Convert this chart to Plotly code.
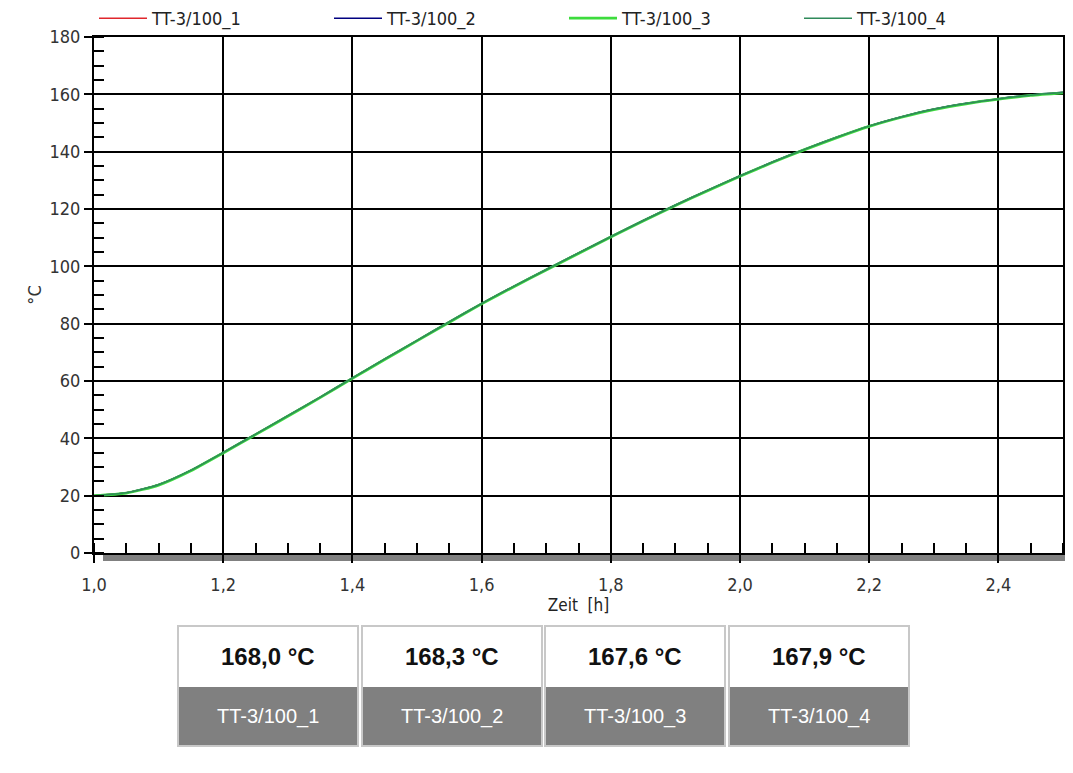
import plotly.graph_objects as go

# ---- data ----
zeit_h = [1.0, 1.05, 1.1, 1.15, 1.2, 1.25, 1.3, 1.35, 1.4, 1.45, 1.5, 1.55, 1.6, 1.65, 1.7,
          1.75, 1.8, 1.85, 1.9, 1.95, 2.0, 2.05, 2.1, 2.15, 2.2, 2.25, 2.3, 2.35, 2.4, 2.45, 2.5]
tt_1 = [20.0, 21.0, 23.8, 28.8, 35.0, 41.4, 47.8, 54.3, 61.0, 67.6, 74.1, 80.6, 87.0, 93.0, 98.8,
        104.6, 110.3, 115.9, 121.3, 126.5, 131.5, 136.3, 140.8, 145.0, 148.9, 152.1, 154.8, 156.8, 158.4, 159.7, 160.6]
tt_2 = [20.0, 21.0, 23.9, 28.9, 35.1, 41.5, 47.9, 54.4, 61.1, 67.7, 74.2, 80.7, 87.1, 93.1, 98.9,
        104.7, 110.4, 116.0, 121.4, 126.6, 131.6, 136.4, 140.9, 145.1, 149.0, 152.2, 154.9, 156.9, 158.5, 159.8, 160.7]
tt_3 = [20.0, 20.9, 23.7, 28.7, 34.9, 41.3, 47.7, 54.2, 60.9, 67.5, 74.0, 80.5, 86.9, 92.9, 98.7,
        104.5, 110.2, 115.8, 121.2, 126.4, 131.4, 136.2, 140.7, 144.9, 148.8, 152.0, 154.7, 156.7, 158.3, 159.6, 160.5]
tt_4 = [20.0, 21.0, 23.8, 28.8, 35.0, 41.4, 47.8, 54.3, 61.0, 67.6, 74.1, 80.6, 87.0, 93.0, 98.8,
        104.6, 110.3, 115.9, 121.3, 126.5, 131.5, 136.3, 140.8, 145.0, 148.9, 152.1, 154.8, 156.8, 158.4, 159.7, 160.6]
series_names = ["TT-3/100_1", "TT-3/100_2", "TT-3/100_3", "TT-3/100_4"]
current_values = ["168,0 °C", "168,3 °C", "167,6 °C", "167,9 °C"]

colors = ["#e0262c", "#000080", "#3ddc3d", "#2f8a5a"]
widths = [1.5, 1.5, 2.8, 1.5]
series = [tt_1, tt_2, tt_3, tt_4]

FONT = "DejaVu Sans Condensed, DejaVu Sans, sans-serif"

fig = go.Figure()
for name, ys, c, w in zip(series_names, series, colors, widths):
    fig.add_trace(go.Scatter(x=zeit_h, y=ys, name=name, mode="lines",
                             line=dict(color=c, width=w, shape="spline", smoothing=0.6)))

# page body has an 8px margin -> compensate
OFF = 8
W, H = 1073 - OFF, 773 - OFF
PL, PR, PT, PB = 94, 1063, 37, 553          # plot area in screen pixels
L, R, T = PL - OFF, (1073 - PR), PT - OFF
B = H - (PB - OFF)
pw, ph = PR - PL, PB - PT


def px(x):
    return (x - PL) / pw


def py(y):
    return (PB - y) / ph


shapes = []
# shadow bars
shapes.append(dict(type="rect", xref="paper", yref="paper", x0=px(1064), x1=px(1071),
                   y0=py(561), y1=py(45), fillcolor="#808080", line=dict(width=0), layer="below"))
shapes.append(dict(type="rect", xref="paper", yref="paper", x0=px(103), x1=px(1071),
                   y0=py(561), y1=py(554), fillcolor="#808080", line=dict(width=0), layer="below"))

annotations = []
box_left = [178, 362, 545, 729]
box_w = 180
for i, (val, lab) in enumerate(zip(current_values, series_names)):
    x0 = box_left[i]
    x1 = x0 + box_w
    shapes.append(dict(type="rect", xref="paper", yref="paper", x0=px(x0), x1=px(x1),
                       y0=py(746), y1=py(626), fillcolor="white",
                       line=dict(color="#c8c8c8", width=2)))
    shapes.append(dict(type="rect", xref="paper", yref="paper", x0=px(x0 + 1), x1=px(x1 - 1),
                       y0=py(745), y1=py(687), fillcolor="#808080",
                       line=dict(width=0)))
    annotations.append(dict(xref="paper", yref="paper", x=px((x0 + x1) / 2), y=py(656),
                            xanchor="center", yanchor="middle",
                            text="<b>" + val + "</b>", showarrow=False,
                            font=dict(family="Liberation Sans, Arial", size=24, color="#111111")))
    annotations.append(dict(xref="paper", yref="paper", x=px((x0 + x1) / 2), y=py(716),
                            xanchor="center", yanchor="middle",
                            text=lab, showarrow=False,
                            font=dict(family="Liberation Sans, Arial", size=20, color="white")))

fig.update_layout(
    width=W, height=H,
    margin=dict(l=L, r=R, t=T, b=B, autoexpand=False),
    paper_bgcolor="white", plot_bgcolor="white",
    separators=",.",
    font=dict(family=FONT, size=18, color="#333333"),
    showlegend=True,
    legend=dict(orientation="h", x=0.0, xanchor="left", y=1.0, yanchor="bottom",
                entrywidth=172, entrywidthmode="pixels",
                font=dict(family=FONT, size=18, color="#222222"),
                bgcolor="rgba(0,0,0,0)", tracegroupgap=0, itemwidth=48),
    xaxis=dict(range=[1.0, 2.5], dtick=0.2, tick0=1.0, tickformat=".1f",
               showgrid=True, gridcolor="black", gridwidth=1.5,
               showline=True, linecolor="black", linewidth=2, mirror=True,
               ticks="outside", ticklen=8, tickcolor="black", tickwidth=1.5,
               ticklabelstandoff=6,
               tickfont=dict(size=18, color="#333333"),
               minor=dict(dtick=0.05, ticks="inside", ticklen=10, tickcolor="black",
                          tickwidth=1.5, showgrid=False),
               zeroline=False,
               title=dict(text="Zeit  [h]", font=dict(size=17, color="#222222"), standoff=2)),
    yaxis=dict(range=[0, 180], dtick=20, tick0=0,
               showgrid=True, gridcolor="black", gridwidth=1.5,
               showline=True, linecolor="black", linewidth=2, mirror=True,
               ticks="outside", ticklen=8, tickcolor="black", tickwidth=1.5,
               tickfont=dict(size=18, color="#333333"),
               minor=dict(dtick=5, ticks="inside", ticklen=10, tickcolor="black",
                          tickwidth=1.5, showgrid=False),
               zeroline=False,
               title=dict(text="°C", font=dict(size=18, color="#333333"), standoff=3)),
    shapes=shapes,
    annotations=annotations,
)

fig.write_html("out.html")
